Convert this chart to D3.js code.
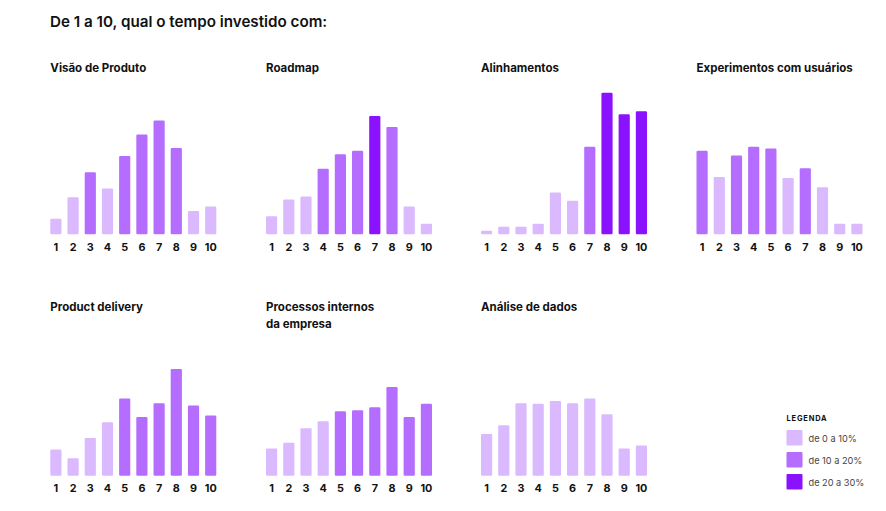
<!DOCTYPE html>
<html>
<head>
<meta charset="utf-8">
<script src="https://cdn.jsdelivr.net/npm/d3@7"></script>
<style>
  body { margin: 0; background: #fff; }
  svg text { font-family: Inter, "Noto Sans", sans-serif; }
</style>
</head>
<body>
<div id="chart"></div>
<script>
const notas = [1, 2, 3, 4, 5, 6, 7, 8, 9, 10];

const titulos = [
    ["Visão de Produto"],
    ["Roadmap"],
    ["Alinhamentos"],
    ["Experimentos com usuários"],
    ["Product delivery"],
    ["Processos internos", "da empresa"],
    ["Análise de dados"]
];

// valores (mesma escala para todos os painéis)
const visaoProduto   = [2.7, 6.4, 10.7, 7.9, 13.5, 17.2, 19.6, 14.9, 4.0, 4.8];
const roadmap        = [3.1, 6.0, 6.5, 11.3, 13.8, 14.4, 20.4, 18.5, 4.8, 1.8];
const alinhamentos   = [0.6, 1.3, 1.3, 1.8, 7.2, 5.8, 15.1, 24.4, 20.7, 21.2];
const experimentos   = [14.4, 9.9, 13.6, 15.1, 14.8, 9.7, 11.4, 8.1, 1.8, 1.8];
const productDelivery = [4.5, 3.0, 6.5, 9.2, 13.3, 10.1, 12.5, 18.4, 12.1, 10.4];
const processos      = [4.7, 5.7, 8.2, 9.4, 11.1, 11.3, 11.8, 15.3, 10.1, 12.4];
const analiseDados   = [7.2, 8.7, 12.5, 12.4, 12.9, 12.5, 13.3, 10.6, 4.7, 5.2];

// faixa de cada barra: 0 = de 0 a 10%, 1 = de 10 a 20%, 2 = de 20 a 30%
const faixasVisao        = [0, 0, 1, 0, 1, 1, 1, 1, 0, 0];
const faixasRoadmap      = [0, 0, 0, 1, 1, 1, 2, 1, 0, 0];
const faixasAlinhamentos = [0, 0, 0, 0, 0, 0, 1, 2, 2, 2];
const faixasExperimentos = [1, 0, 1, 1, 1, 0, 1, 0, 0, 0];
const faixasDelivery     = [0, 0, 0, 0, 1, 1, 1, 1, 1, 1];
const faixasProcessos    = [0, 0, 0, 0, 1, 1, 1, 1, 1, 1];
const faixasAnalise      = [0, 0, 0, 0, 0, 0, 0, 0, 0, 0];

const legendaLabels = ["de 0 a 10%", "de 10 a 20%", "de 20 a 30%"];
const cores = ["#dab9ff", "#b46dff", "#8a12ff"];

const series = [visaoProduto, roadmap, alinhamentos, experimentos, productDelivery, processos, analiseDados];
const faixas = [faixasVisao, faixasRoadmap, faixasAlinhamentos, faixasExperimentos, faixasDelivery, faixasProcessos, faixasAnalise];

const width = 886, height = 511;
const svg = d3.select('#chart').append('svg')
    .attr('width', width)
    .attr('height', height);

svg.append('text')
    .attr('x', 50)
    .attr('y', 27)
    .attr('font-size', 15.2)
    .attr('font-weight', 600)
    .attr('fill', '#111')
    .text("De 1 a 10, qual o tempo investido com:");

const x = d3.scaleBand()
    .domain(notas)
    .range([0, 166])
    .paddingInner(0.35)
    .paddingOuter(0);

const y = d3.scaleLinear()
    .domain([0, 25])
    .range([0, 145]);

const panelX = [50.3, 266, 481, 696.5];
const baseY = [234.3, 475.7];
const titleY = [72, 311];

series.forEach((vals, i) => {
    const col = i % 4, row = Math.floor(i / 4);
    const g = svg.append('g')
        .attr('transform', `translate(${panelX[col]}, 0)`);

    g.selectAll('.title-line')
        .data(titulos[i])
        .enter()
        .append('text')
        .attr('x', 0)
        .attr('y', (d, k) => titleY[row] + k * 16.5)
        .attr('font-size', 11.5)
        .attr('font-weight', 700)
        .attr('fill', '#111')
        .text(d => d);

    g.selectAll('.bar')
        .data(vals)
        .enter()
        .append('rect')
        .attr('x', (d, k) => x(notas[k]))
        .attr('y', d => baseY[row] - y(d))
        .attr('width', x.bandwidth())
        .attr('height', d => y(d))
        .attr('rx', 1.2)
        .attr('fill', (d, k) => cores[faixas[i][k]]);

    const axis = g.append('g')
        .attr('transform', `translate(0, ${baseY[row] + 9})`)
        .call(d3.axisBottom(x).tickSize(0).tickPadding(0));
    axis.select('.domain').remove();
    axis.selectAll('text')
        .attr('font-family', 'Inter, "Noto Sans", sans-serif')
        .attr('font-size', 10.8)
        .attr('font-weight', 700)
        .attr('fill', '#111');
});

// legenda
const leg = svg.append('g').attr('transform', 'translate(786.5, 0)');
leg.append('text')
    .attr('x', 0)
    .attr('y', 421)
    .attr('font-size', 7.5)
    .attr('font-weight', 700)
    .attr('letter-spacing', 0.8)
    .attr('fill', '#111')
    .text("LEGENDA");

const items = leg.selectAll('.item')
    .data(legendaLabels)
    .enter()
    .append('g')
    .attr('transform', (d, i) => `translate(0, ${430 + i * 22})`);

items.append('rect')
    .attr('width', 16)
    .attr('height', 15.5)
    .attr('rx', 1)
    .attr('fill', (d, i) => cores[i]);

items.append('text')
    .attr('x', 22)
    .attr('y', 11.5)
    .attr('font-size', 9.2)
    .attr('fill', '#444')
    .text(d => d);
</script>
</body>
</html>
